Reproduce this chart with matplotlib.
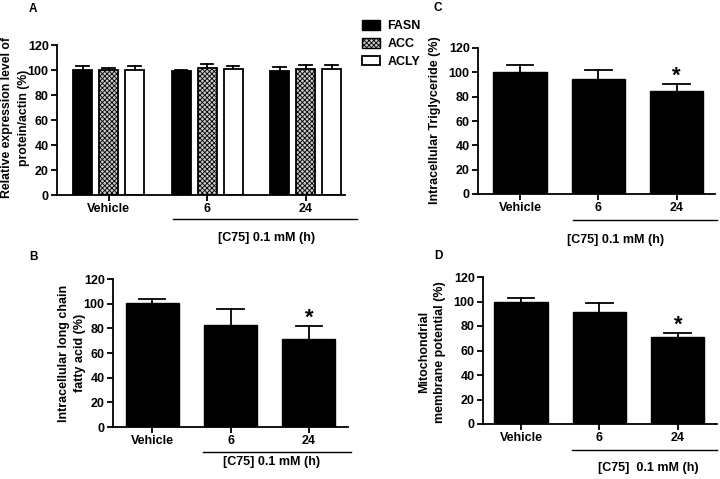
import numpy as np
import matplotlib.pyplot as plt
from matplotlib.patches import Patch

plt.rcParams['font.family'] = ['Liberation Sans', 'DejaVu Sans']
plt.rcParams['font.weight'] = 'bold'
plt.rcParams['hatch.linewidth'] = 0.6

# dados
grupos = ["Vehicle", "6", "24"]
genes = ["FASN", "ACC", "ACLY"]
a_medias = [[100, 99.2, 99], [100, 102, 101], [100, 100.5, 101]]
a_erros = [[3.5, 0.6, 3.5], [2.0, 2.5, 3.0], [3.5, 2.5, 3.0]]

b_medias = [100.5, 82.3, 71.1]
b_erros = [3.2, 13.3, 11.0]
b_sig = [False, False, True]

c_medias = [100, 94.8, 84.4]
c_erros = [6.0, 7.4, 6.3]
c_sig = [False, False, True]

d_medias = [99.7, 91.6, 71.2]
d_erros = [3.5, 7.3, 2.9]
d_sig = [False, False, True]

W, H = 720, 479
fig = plt.figure(figsize=(W / 100, H / 100), dpi=100)


def eixo(x0, x1, ytop, ybot):
    return fig.add_axes([x0 / W, 1 - ybot / H, (x1 - x0) / W, (ybot - ytop) / H])


def estilo(ax, xlim):
    ax.set_ylim(0, 120)
    ax.set_xlim(*xlim)
    ax.set_yticks(range(0, 121, 20))
    ax.spines['top'].set_visible(False)
    ax.spines['right'].set_visible(False)
    for s in ['left', 'bottom']:
        ax.spines[s].set_linewidth(1.3)
    ax.tick_params(width=1.3, length=4, labelsize=9, pad=2)
    ax.set_xticks(range(3))
    ax.set_xticklabels(grupos, fontweight='bold')
    for t in ax.get_yticklabels():
        t.set_fontweight('bold')


def barras_erro(ax, x, medias, erros, cap):
    for xi, m, e in zip(x, medias, erros):
        ax.plot([xi, xi], [m, m + e], color='black', lw=1.3, zorder=1)
        ax.plot([xi - cap / 2, xi + cap / 2], [m + e, m + e], color='black', lw=1.3, zorder=1)


def rodape(ax, x0, x1, yl, ytxt, xtxt, texto):
    # linha sob os tempos de C75 e rotulo
    ax.plot([x0, x1], [yl, yl], transform=fig.transFigure, color='black', lw=1.0, clip_on=False)
    fig.text(xtxt, ytxt, texto, ha='center', va='center', fontsize=9, fontweight='bold')


def painel_simples(ax, medias, erros, sig, xlim):
    x = np.arange(3)
    barras_erro(ax, x, medias, erros, 0.34)
    ax.bar(x, medias, width=0.68, color='black', edgecolor='black', zorder=2)
    for xi, m, e, s in zip(x, medias, erros, sig):
        if s:
            ax.text(xi, m + e + 6.5, "*", ha='center', va='center', fontsize=16, fontweight='bold')
    estilo(ax, xlim)


# Painel A
axA = eixo(57, 345, 45, 195)
x = np.arange(3)
larg = 0.193
desl = 0.264
estilos = [dict(color='black', edgecolor='black'),
           dict(color='#c8c8c8', edgecolor='black', hatch='xxxxxxx'),
           dict(color='white', edgecolor='black')]
for i in range(3):
    xi = x + (i - 1) * desl
    barras_erro(axA, xi, a_medias[i], a_erros[i], 0.13)
    axA.bar(xi, a_medias[i], width=larg, linewidth=1.3, zorder=2, **estilos[i])
estilo(axA, (-0.523, 2.40))
fig.text(7 / W, 1 - 118 / H, "Relative expression level of", rotation=90, ha='center', va='center', fontsize=8.8)
fig.text(24 / W, 1 - 118 / H, "protein/actin (%)", rotation=90, ha='center', va='center', fontsize=8.8)
rodape(axA, 173 / W, 357 / W, 1 - 219 / H, 1 - 238 / H, 267 / W, "[C75] 0.1 mM (h)")
handles = [Patch(facecolor='black', edgecolor='black', label='FASN'),
           Patch(facecolor='#c8c8c8', edgecolor='black', hatch='xxxxxxx', label='ACC'),
           Patch(facecolor='white', edgecolor='black', linewidth=1.3, label='ACLY')]
fig.legend(handles=handles, loc='upper left', bbox_to_anchor=(351 / W, 1 - 9 / H), frameon=False,
           handlelength=1.4, handleheight=0.8, labelspacing=0.45, handletextpad=0.6,
           prop={'weight': 'bold', 'size': 9})

# Painel C
axC = eixo(478, 715, 48, 194)
painel_simples(axC, c_medias, c_erros, c_sig, (-0.536, 2.49))
fig.text(435 / W, 1 - 120 / H, "Intracellular Triglyceride (%)", rotation=90, ha='center', va='center', fontsize=9)
rodape(axC, 573 / W, 717 / W, 1 - 220 / H, 1 - 240 / H, 616 / W, "[C75] 0.1 mM (h)")

# Painel B
axB = eixo(113, 348, 279, 427)
painel_simples(axB, b_medias, b_erros, b_sig, (-0.5, 2.5))
fig.text(64 / W, 1 - 353 / H, "Intracellular long chain", rotation=90, ha='center', va='center', fontsize=9)
fig.text(80 / W, 1 - 353 / H, "fatty acid (%)", rotation=90, ha='center', va='center', fontsize=9)
rodape(axB, 203 / W, 351 / W, 1 - 452 / H, 1 - 462 / H, 272 / W, "[C75] 0.1 mM (h)")

# Painel D
axD = eixo(483, 717, 277, 424)
painel_simples(axD, d_medias, d_erros, d_sig, (-0.485, 2.50))
fig.text(424 / W, 1 - 352 / H, "Mitochondrial", rotation=90, ha='center', va='center', fontsize=9)
fig.text(440 / W, 1 - 352 / H, "membrane potential (%)", rotation=90, ha='center', va='center', fontsize=9)
rodape(axD, 572 / W, 717 / W, 1 - 450 / H, 1 - 468 / H, 648 / W, "[C75]  0.1 mM (h)")

# letras dos paineis
for letra, px, py in [("A", 33, 9), ("C", 438, 8), ("B", 33, 257), ("D", 438, 256)]:
    fig.text(px / W, 1 - py / H, letra, ha='center', va='center', fontsize=8.5, fontweight='bold')

fig.savefig("out.png", dpi=100)
